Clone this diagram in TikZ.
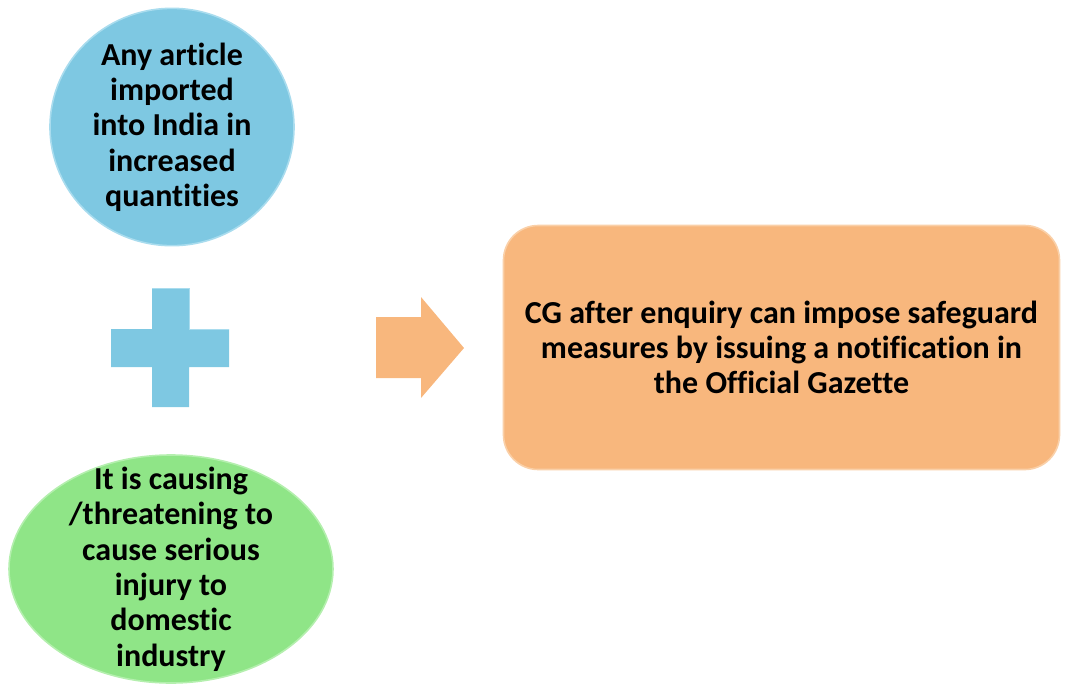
\documentclass[tikz,border=0pt]{standalone}
\usepackage{fontspec}
\setmainfont{Carlito}[Ligatures=NoCommon]
\usetikzlibrary{positioning,shapes.geometric}
\definecolor{SkyBlue}{HTML}{7EC8E2}
\definecolor{SkyEdge}{HTML}{A9DCEE}
\definecolor{LeafGreen}{HTML}{8FE587}
\definecolor{LeafEdge}{HTML}{B4EFAE}
\definecolor{Apricot}{HTML}{F8B77D}
\definecolor{ApricotEdge}{HTML}{FAD0A8}

\tikzset{
  bubble/.style={
    ellipse,
    line width=1.2pt,
    inner sep=0pt
  },
  bubbletext/.style={
    align=center,
    font=\fontsize{24}{26.5}\selectfont\bfseries
  },
  resultbox/.style={
    rounded corners=26pt,
    draw=ApricotEdge,
    fill=Apricot,
    line width=1.2pt,
    minimum width=417pt,
    minimum height=183pt,
    align=center,
    font=\fontsize{24}{26.5}\selectfont\bfseries
  }
}

\begin{document}
\begin{tikzpicture}[x=0.75pt,y=-0.75pt]
  \useasboundingbox (0,0) rectangle (1065,690);

  % the two conditions
  \node[
    bubble,
    draw=SkyEdge,
    fill=SkyBlue,
    minimum width=183pt,
    minimum height=178pt
  ] (imports) at (172,127) {};
  \node[bubbletext] (importstext) at (imports.center)
    {Any article\\imported\\into India in\\increased\\quantities};

  \node[
    bubble,
    draw=LeafEdge,
    fill=LeafGreen,
    minimum width=243pt,
    minimum height=171pt
  ] (injury) at (171,569) {};
  \node[bubbletext] (injurytext) at (injury.center)
    {It is causing\\/threatening to\\cause serious\\injury to\\domestic\\industry};

  % plus sign between them
  \fill[SkyBlue] (152,288) -- (189,288) -- (189,329) -- (229,329) -- (229,367)
    -- (189,367) -- (189,407) -- (152,407) -- (152,367) -- (111,367)
    -- (111,329) -- (152,329) -- cycle;
  \draw[SkyEdge, line width=0.6pt] (152,288) -- (189,288) -- (189,329) -- (229,329);

  % block arrow
  \fill[Apricot] (376,317) -- (421,317) -- (421,297) -- (464,348) -- (421,398)
    -- (421,378) -- (376,378) -- cycle;

  % the outcome
  \node[resultbox] (outcome) at (781.5,347.5)
    {CG after enquiry can impose safeguard\\measures by issuing a notification in\\the Official Gazette};
\end{tikzpicture}
\end{document}
